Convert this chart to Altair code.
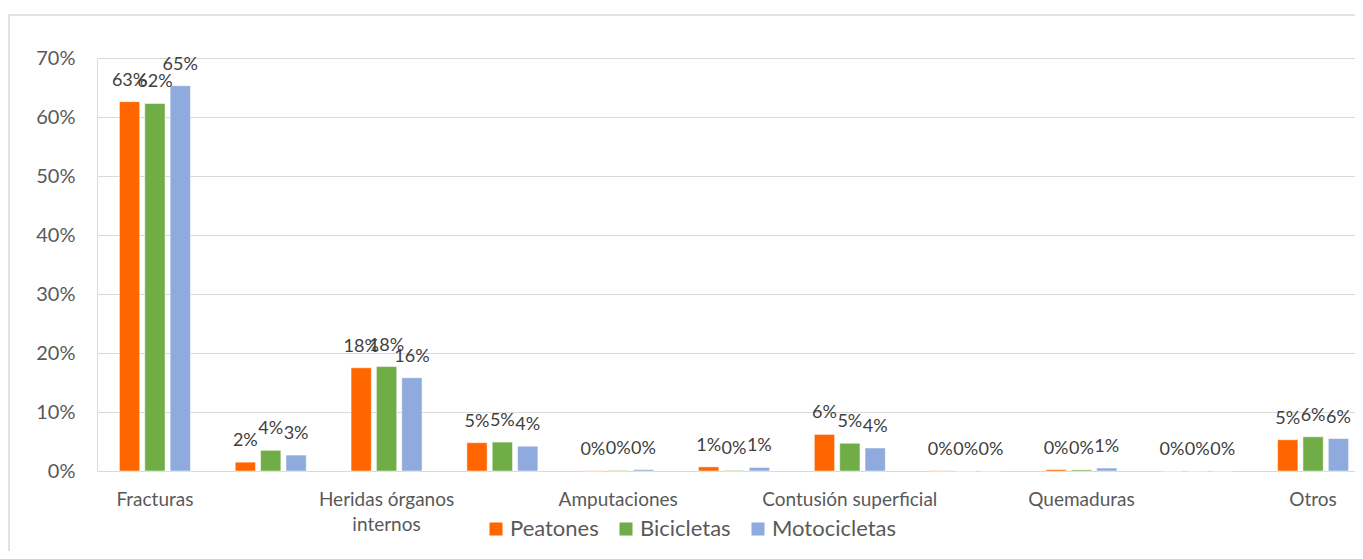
import json
import altair as alt
import pandas as pd

# 11 categories; Excel shows only every other label
etiquetas = ["Fracturas", "", "Heridas órganos internos", "", "Amputaciones", "",
             "Contusión superficial", "", "Quemaduras", "", "Otros"]
series = ["Peatones", "Bicicletas", "Motocicletas"]
peatones = [62.6, 1.5, 17.5, 4.8, 0.05, 0.7, 6.2, 0.05, 0.25, 0.0, 5.3]
bicicletas = [62.3, 3.5, 17.7, 4.9, 0.1, 0.1, 4.7, 0.0, 0.2, 0.0, 5.8]
motocicletas = [65.3, 2.7, 15.8, 4.2, 0.25, 0.6, 3.9, 0.0, 0.5, 0.0, 5.5]
colores = ["#FF6600", "#70AD47", "#8FAADC"]
y_ticks = [0, 0.1, 0.2, 0.3, 0.4, 0.5, 0.6, 0.7]

rows = []
for s, vals in zip(series, [peatones, bicicletas, motocicletas]):
    for i, v in enumerate(vals):
        rows.append({"pos": i, "serie": s, "valor": v / 100.0})
df = pd.DataFrame(rows)

W, H = 1258, 413
FONT = "Lato"

label_arr = [["Heridas órganos", "internos"] if l == "Heridas órganos internos" else l for l in etiquetas]
label_expr = json.dumps(label_arr, ensure_ascii=False) + "[datum.value]"

x_enc = alt.X("pos:O", title=None,
              scale=alt.Scale(paddingInner=0.387, paddingOuter=0.1935, range=[0, 1274]),
              axis=alt.Axis(labelExpr=label_expr, labelAngle=0, labelFontSize=19,
                            labelColor="#595959", labelFont=FONT, labelPadding=19,
                            labelLineHeight=25, ticks=False, domainColor="#d9d9d9",
                            grid=False, labelBaseline="top"))
xo = alt.XOffset("serie:N", sort=series, scale=alt.Scale(paddingInner=0.2))
y_enc = alt.Y("valor:Q", title=None,
              scale=alt.Scale(domain=[0, 0.7], nice=False),
              axis=alt.Axis(format=".0%", values=y_ticks, labelFontSize=20,
                            labelColor="#595959", labelFont=FONT, ticks=False,
                            domain=False, gridColor="#d9d9d9", labelPadding=22))
color = alt.Color("serie:N", sort=series,
                  scale=alt.Scale(domain=series, range=colores),
                  legend=alt.Legend(title=None, orient="none", direction="horizontal",
                                    legendX=388, legendY=460, symbolType="square",
                                    symbolSize=170, symbolStrokeWidth=0,
                                    labelFontSize=22, labelColor="#595959",
                                    labelFont=FONT, columnPadding=16, symbolOffset=0,
                                    labelOffset=3))

bars = alt.Chart(df).mark_bar(stroke="white", strokeWidth=0.5).encode(
    x=x_enc, xOffset=xo, y=y_enc, color=color)

labels = alt.Chart(df).mark_text(dy=-12, fontSize=18, color="#404040", font=FONT,
                                 baseline="bottom").encode(
    x=alt.X("pos:O"), xOffset=alt.XOffset("serie:N", sort=series),
    y=alt.Y("valor:Q"), text=alt.Text("valor:Q", format=".0%"))

border = alt.Chart(alt.Data(values=[{"a": 1}])).mark_rect(
    fill=None, stroke="#d9d9d9", strokeWidth=1.5).encode(
    x=alt.value(-88), x2=alt.value(W + 200), y=alt.value(-43), y2=alt.value(H + 200))

chart = alt.layer(border, bars, labels).properties(
    width=W, height=H,
    autosize=alt.AutoSizeParams(type="none"),
    padding={"left": 89, "top": 50, "right": 0, "bottom": 80},
).configure_view(stroke=None).configure(background="white")

chart.save("out.html", embed_options={"renderer": "svg", "actions": False})
